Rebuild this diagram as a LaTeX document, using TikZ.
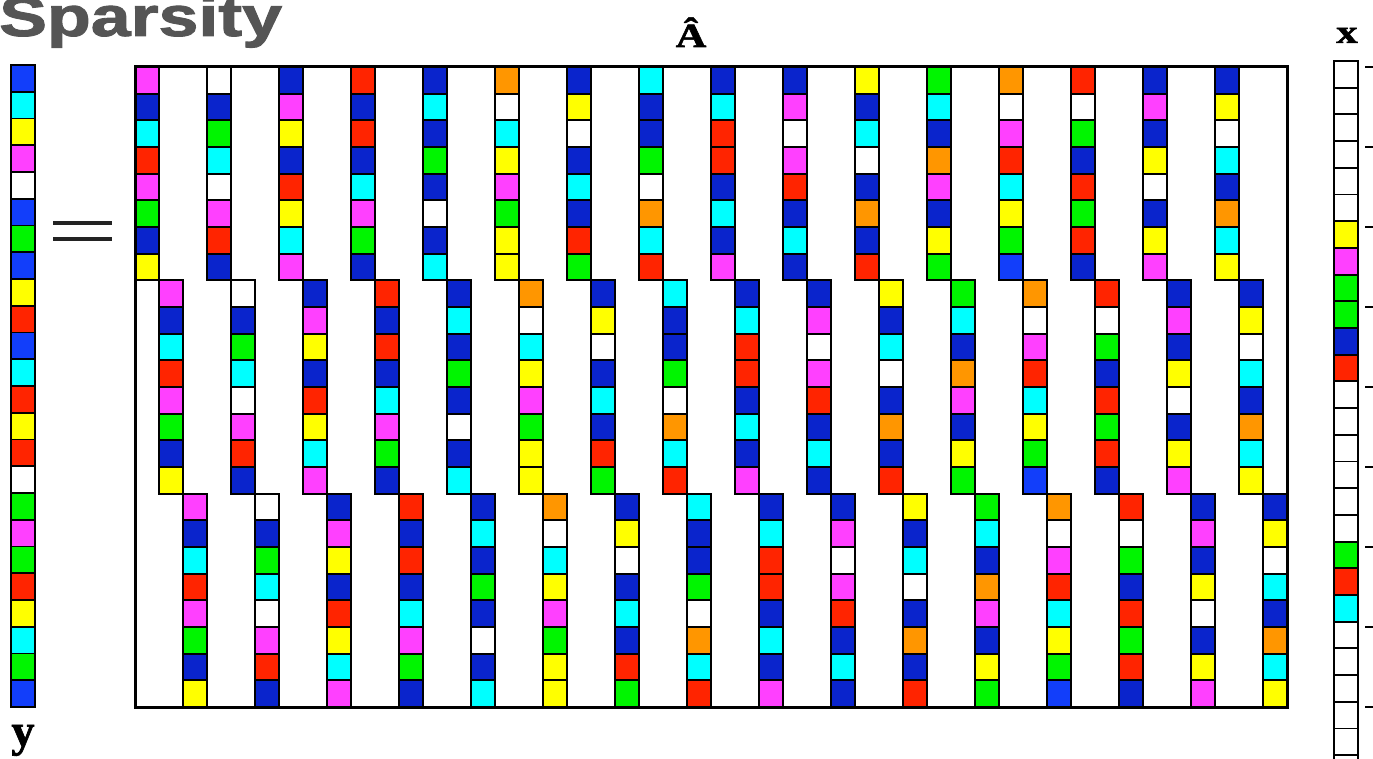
\documentclass[tikz,border=0pt]{standalone}
\usepackage{fontspec}
\setmainfont{Liberation Serif}
\setsansfont{Liberation Sans}
\newfontfamily\lblfont{Liberation Serif Bold}[FakeBold=1.5]
\newfontfamily\titlefont{Liberation Sans Bold}[FakeBold=1.6]
\usepackage{graphicx}
\usepackage{tikz}

\definecolor{cB}{RGB}{10,36,204}
\definecolor{cL}{RGB}{18,62,250}
\definecolor{cC}{RGB}{0,255,255}
\definecolor{cY}{RGB}{255,255,0}
\definecolor{cM}{RGB}{255,64,255}
\definecolor{cR}{RGB}{255,36,0}
\definecolor{cG}{RGB}{0,245,0}
\definecolor{cO}{RGB}{255,150,0}
\definecolor{cW}{RGB}{255,255,255}
\definecolor{titlegray}{RGB}{85,85,85}
\definecolor{eqgray}{RGB}{35,35,35}

\begin{document}
\begin{tikzpicture}[x=1pt,y=-1pt,
	cell/.style={draw=black, line width=1.9pt},
	lbl/.style={inner sep=0pt, anchor=base}]
	\useasboundingbox (0,0) rectangle (1373,759);
	\node[lbl, anchor=base west, text=titlegray] (title) at (-1,36) {\scalebox{1.28}[1]{\fontsize{56}{60}\selectfont\titlefont Sparsity}};
	% y
	\foreach \c [count=\r from 0] in {L,C,Y,M,W,L,G,L,Y,R,L,C,R,Y,R,W,G,M,G,R,Y,C,G,L}
		\filldraw[cell, fill=c\c] (11,{65+26.75*\r}) rectangle ++(24,26.75);
	\node[lbl] (ylabel) at (23,746) {\fontsize{46}{48}\selectfont\lblfont y};
	\draw[eqgray, line width=4pt] (53,223) -- (112,223) (53,239) -- (112,239);
	% A hat: 16 column groups, same column in each of the 3 row blocks
	\foreach \s [count=\g from 0] in {{M,B,C,R,M,G,B,Y},{W,B,G,C,W,M,R,B},{B,M,Y,B,R,Y,C,M},{R,B,R,B,C,M,G,B},
		{B,C,B,G,B,W,B,C},{O,W,C,Y,M,G,Y,Y},{B,Y,W,B,C,B,R,G},{C,B,B,G,W,O,C,R},
		{B,C,R,R,B,C,B,M},{B,M,W,M,R,B,C,B},{Y,B,C,W,B,O,B,R},{G,C,B,O,M,B,Y,G},
		{O,W,M,R,C,Y,G,L},{R,W,G,B,R,G,R,B},{B,M,B,Y,W,B,Y,M},{B,Y,W,C,B,O,C,Y}}
		\foreach \b in {0,1,2}
			\foreach \c [count=\r from 0] in \s
				\filldraw[cell, fill=c\c] ({135+24*(3*\g+\b)},{67+26.667*(8*\b+\r)}) rectangle ++(24,26.667);
	\draw[line width=3pt] (135,67) rectangle (1287,707);
	\node[lbl] (Ahat) at (691,47) {\scalebox{1.25}[1]{\fontsize{34}{36}\selectfont\lblfont Â}};
	% x
	\foreach \c [count=\r from 0] in {W,W,W,W,W,W,Y,M,G,G,B,R,W,W,W,W,W,W,G,R,C,W,W,W,W,W,W}
		\filldraw[cell, fill=c\c] (1334,{61+26.7*\r}) rectangle ++(24,26.7);
	\foreach \k in {0,...,8} \draw[line width=2.5pt] (1365,{67+80*\k}) -- (1373,{67+80*\k});
	\node[lbl] (xlabel) at (1347,43) {\scalebox{1.3}[1]{\fontsize{33}{35}\selectfont\lblfont x}};
\end{tikzpicture}
\end{document}
